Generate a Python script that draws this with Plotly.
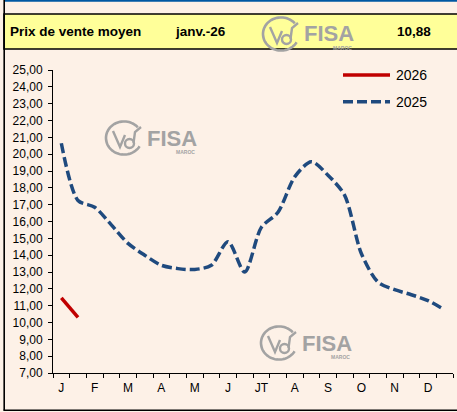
import math
import plotly.graph_objects as go

# ---------------- data ----------------
months = ["J", "F", "M", "A", "M", "J", "JT", "A", "S", "O", "N", "D"]
periods = list(range(24))  # semi-monthly periods, two per month
v2025 = [20.65, 17.25, 16.85, 15.80, 14.70, 14.00, 13.40, 13.20, 13.15, 13.40,
         14.80, 13.00, 15.65, 16.55, 18.65, 19.55, 18.75, 17.55, 14.10, 12.40,
         11.95, 11.65, 11.30, 10.75]
v2026 = [11.46, 10.30]
series_names = ["2026", "2025"]
title_label = "Prix de vente moyen"
period_label = "janv.-26"
y_ticks = list(range(7, 26))

avg_label = f"{sum(v2026) / len(v2026):.2f}".replace(".", ",")

# ---------------- geometry helpers ----------------
W, H = 457, 412
ML, MR, MT, MB = 53, 4, 70, 39
PW, PH = W - ML - MR, H - MT - MB


def xp(px):
    return (px - ML) / PW


def yp(py):
    return (H - MB - py) / PH


BG = "#FDF1E7"
FONT = "Liberation Sans, Arial, sans-serif"
RED = "#C00000"
BLUE = "#1F4A7E"
GREY = "#A3A3A3"

fig = go.Figure()

fig.add_trace(go.Scatter(
    x=periods[:len(v2026)], y=v2026, name=series_names[0], mode="lines",
    line=dict(color=RED, width=3.5), showlegend=False))
fig.add_trace(go.Scatter(
    x=periods, y=v2025, name=series_names[1], mode="lines",
    line=dict(color=BLUE, width=3.5, dash="10px,4px", shape="spline", smoothing=0.8),
    showlegend=False))

shapes = []
annotations = []

# frame / header
shapes.append(dict(type="rect", xref="paper", yref="paper",
                   x0=xp(4), x1=xp(459), y0=yp(14), y1=yp(49),
                   fillcolor="#FFFF99", line=dict(color="black", width=1.6)))
shapes.append(dict(type="rect", xref="paper", yref="paper",
                   x0=xp(4), x1=xp(459), y0=yp(0), y1=yp(1.8),
                   fillcolor="#0058A3", line=dict(width=0)))
shapes.append(dict(type="line", xref="paper", yref="paper",
                   x0=xp(4.2), x1=xp(4.2), y0=yp(0), y1=yp(410.5),
                   line=dict(color="black", width=1.6)))
shapes.append(dict(type="line", xref="paper", yref="paper",
                   x0=xp(3.5), x1=xp(459), y0=yp(410.3), y1=yp(410.3),
                   line=dict(color="black", width=1.6)))

for txt, x0 in [(title_label, 7.5), (period_label, 173), (avg_label, 395)]:
    annotations.append(dict(text=f"<b>{txt}</b>", xref="paper", yref="paper",
                            x=xp(x0), y=yp(31.5), xanchor="left", yanchor="middle",
                            showarrow=False, font=dict(family=FONT, size=13.5, color="black")))


# watermark logos
def logo(cx, cy, layer="below"):
    r = 18
    pts = []
    for k in range(0, 61):
        th = math.radians(40 + k * (290 / 60))
        pts.append((cx + r * math.cos(th), cy - r * 0.92 * math.sin(th)))
    path = "M " + " L ".join(f"{xp(a):.5f},{yp(b):.5f}" for a, b in pts)
    shapes.append(dict(type="path", xref="paper", yref="paper", path=path,
                       line=dict(color=GREY, width=2.6), layer=layer))
    inner = [(cx - 11, cy - 7), (cx - 4, cy + 9), (cx + 1, cy - 3)]
    path2 = "M " + " L ".join(f"{xp(a):.5f},{yp(b):.5f}" for a, b in inner)
    shapes.append(dict(type="path", xref="paper", yref="paper", path=path2,
                       line=dict(color=GREY, width=2.4), layer=layer))
    shapes.append(dict(type="circle", xref="paper", yref="paper",
                       x0=xp(cx + 1), x1=xp(cx + 10), y0=yp(cy + 1), y1=yp(cy + 10),
                       line=dict(color=GREY, width=2.4), layer=layer))
    stem = [(cx + 9.5, cy + 5), (cx + 11, cy - 6), (cx + 17, cy - 11)]
    path3 = "M " + " L ".join(f"{xp(a):.5f},{yp(b):.5f}" for a, b in stem)
    shapes.append(dict(type="path", xref="paper", yref="paper", path=path3,
                       line=dict(color=GREY, width=2.4), layer=layer))
    annotations.append(dict(text="<b>FISA</b>", xref="paper", yref="paper",
                            x=xp(cx + 21), y=yp(cy), xanchor="left", yanchor="middle",
                            showarrow=False, font=dict(family=FONT, size=22, color=GREY)))
    annotations.append(dict(text="<b>MAROC</b>", xref="paper", yref="paper",
                            x=xp(cx + 73), y=yp(cy + 14), xanchor="right", yanchor="middle",
                            showarrow=False, font=dict(family=FONT, size=5, color=GREY)))


logo(124, 138)
logo(279, 343)
logo(281, 34, layer="above")

# legend (manual)
shapes.append(dict(type="line", xref="paper", yref="paper",
                   x0=xp(343), x1=xp(390), y0=yp(75), y1=yp(75),
                   line=dict(color=RED, width=3.5)))
shapes.append(dict(type="line", xref="paper", yref="paper",
                   x0=xp(343), x1=xp(390), y0=yp(101.7), y1=yp(101.7),
                   line=dict(color=BLUE, width=3.5, dash="10px,4px")))
for name, yy in zip(series_names, [75, 101.7]):
    annotations.append(dict(text=name, xref="paper", yref="paper",
                            x=xp(394), y=yp(yy), xanchor="left", yanchor="middle",
                            showarrow=False, font=dict(family=FONT, size=14, color="black")))

fig.update_layout(
    width=W, height=H,
    margin=dict(l=ML, r=MR, t=MT, b=MB),
    paper_bgcolor=BG, plot_bgcolor=BG,
    separators=", ",
    showlegend=False,
    shapes=shapes,
    annotations=annotations,
    xaxis=dict(
        range=[-0.5, 23.5],
        tickmode="array",
        tickvals=periods[::2],
        ticktext=months,
        ticks="",
        ticklabelstandoff=4,
        showline=True, linecolor="black", linewidth=1,
        showgrid=False, zeroline=False,
        tickfont=dict(family=FONT, size=12, color="black"),
        minor=dict(tickmode="linear", tick0=-0.5, dtick=1, ticks="outside",
                   ticklen=4, tickcolor="black", tickwidth=1, showgrid=False),
    ),
    yaxis=dict(
        range=[7, 25],
        tickmode="array",
        tickvals=y_ticks,
        tickformat=".2f",
        ticks="outside", ticklen=4, tickcolor="black", tickwidth=1,
        ticklabelstandoff=3,
        showline=True, linecolor="black", linewidth=1,
        showgrid=False, zeroline=False,
        tickfont=dict(family=FONT, size=12, color="black"),
    ),
)

fig.write_html(
    "out.html",
    config={"displayModeBar": False},
    post_script="document.body.style.margin='0';document.body.style.padding='0';"
                "document.body.style.background='" + BG + "';",
)
